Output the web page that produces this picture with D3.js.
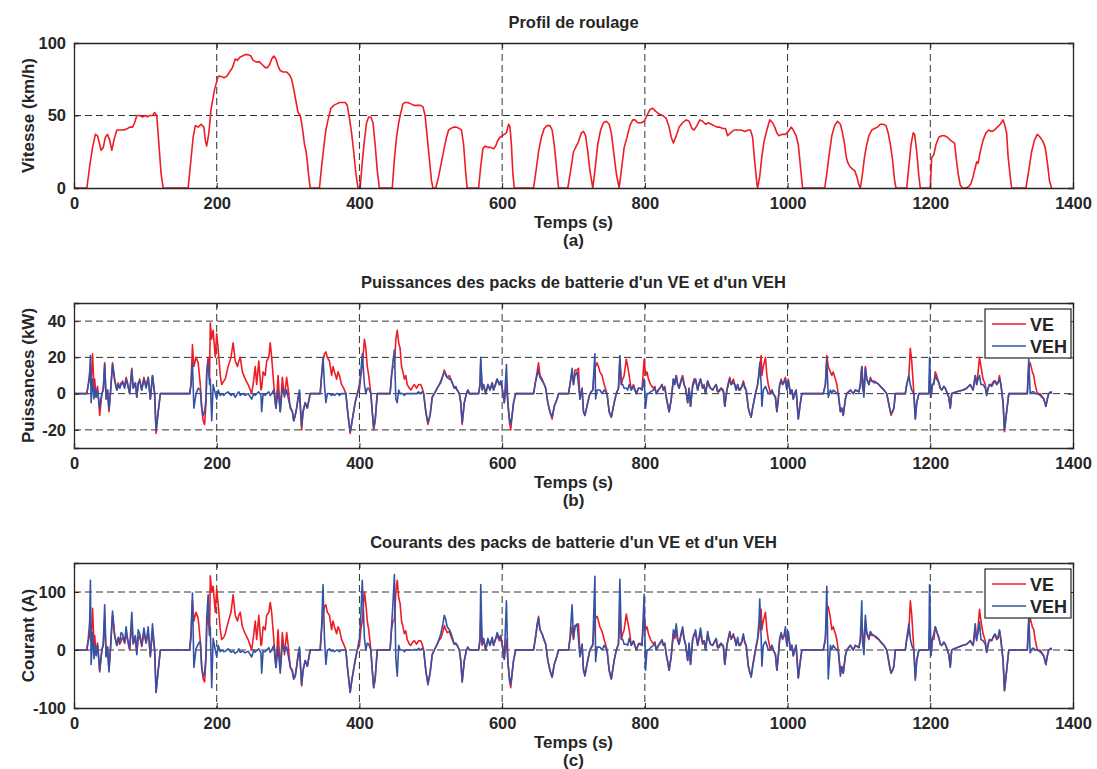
<!DOCTYPE html>
<html><head><meta charset="utf-8">
<script src="https://cdn.jsdelivr.net/npm/d3@7"></script>
<style>
body{margin:0;background:#fff}
text{font-family:"Liberation Sans",Arial,Helvetica,sans-serif;font-weight:bold;fill:#262626}
</style></head>
<body><svg id="chart" width="1097" height="769"></svg>
<script>
// ---- Data ----
const xTicks = [0,200,400,600,800,1000,1200,1400];
const seriesNames = ["VE","VEH"];

// Speed profile [time s, km/h]
const speedProfile = [[0,0],[18,0],[22,15],[26,28],[30,37],[33,36],[36,30],[38,26],[41,28],[44,35],[47,37],[50,33],[53,26],[56,33],[60,40],[65,40],[70,40],[75,41],[78,42],[82,42],[85,45],[88,50],[92,50],[96,49],[100,50],[103,49],[106,50],[110,50],[113,52],[116,50],[119,30],[122,10],[125,0],[160,0],[163,15],[167,35],[170,43],[174,42],[178,44],[182,42],[184,33],[186,29],[189,38],[192,54],[197,68],[202,77],[206,77],[210,76],[214,77],[218,80],[222,83],[226,89],[229,88],[232,90],[236,91],[240,92],[244,92],[248,91],[251,88],[255,87],[260,87],[264,85],[268,83],[271,83],[274,85],[277,89],[280,91],[283,89],[286,84],[289,81],[293,80],[298,80],[302,78],[305,75],[308,68],[311,60],[314,52],[317,50],[319,45],[321,38],[323,30],[325,26],[327,18],[329,8],[331,0],[344,0],[347,15],[350,28],[353,40],[356,47],[360,55],[364,57],[368,58],[372,59],[376,59],[380,59],[383,57],[386,48],[389,38],[392,25],[395,10],[398,0],[401,0],[404,18],[407,33],[410,45],[413,49],[416,49],[419,45],[422,30],[425,12],[428,0],[446,0],[449,20],[452,35],[455,45],[458,52],[461,58],[464,59],[468,59],[472,58],[476,57],[482,57],[486,57],[489,56],[492,50],[495,35],[498,20],[501,5],[503,0],[507,0],[511,8],[515,18],[519,28],[522,35],[525,40],[528,41],[532,42],[536,42],[540,41],[543,40],[546,30],[549,10],[551,0],[567,0],[570,15],[573,27],[576,29],[580,28],[584,28],[588,27],[591,29],[594,33],[597,35],[600,36],[603,37],[606,38],[609,44],[611,42],[613,30],[615,10],[617,0],[644,0],[647,10],[651,25],[655,35],[659,41],[663,43],[667,43],[670,40],[673,30],[676,15],[679,0],[692,0],[696,12],[700,25],[703,28],[707,32],[711,38],[714,39],[717,36],[720,25],[723,12],[727,0],[730,12],[734,30],[738,40],[742,45],[746,46],[750,44],[753,38],[757,22],[760,10],[764,0],[767,12],[771,28],[775,35],[779,43],[783,47],[786,47],[790,45],[795,45],[799,46],[803,50],[807,54],[811,55],[815,53],[820,51],[825,50],[830,48],[834,42],[837,35],[840,31],[844,36],[848,42],[853,45],[858,47],[862,46],[866,41],[869,40],[873,43],[877,47],[881,46],[885,44],[889,45],[893,44],[897,43],[901,42],[905,42],[909,41],[913,41],[916,36],[920,38],[925,40],[930,40],[935,40],[940,39],[945,40],[948,40],[951,35],[954,18],[957,3],[958,0],[961,8],[964,22],[967,32],[971,40],[975,47],[979,45],[982,42],[985,38],[988,36],[992,37],[997,37],[1001,39],[1005,42],[1008,40],[1012,36],[1015,30],[1018,15],[1021,0],[1052,0],[1055,10],[1058,22],[1062,36],[1066,43],[1070,46],[1074,44],[1077,38],[1080,30],[1082,22],[1084,18],[1087,15],[1091,13],[1094,12],[1097,8],[1100,2],[1102,0],[1105,10],[1108,22],[1111,30],[1114,36],[1118,40],[1122,41],[1126,42],[1130,44],[1134,44],[1138,43],[1141,38],[1144,30],[1147,20],[1150,5],[1152,0],[1167,0],[1170,15],[1173,30],[1176,38],[1178,37],[1181,25],[1184,8],[1186,0],[1200,0],[1202,21],[1205,23],[1208,30],[1212,35],[1216,36],[1220,36],[1224,35],[1228,33],[1231,32],[1234,31],[1236,22],[1239,10],[1242,2],[1245,0],[1250,0],[1254,1],[1257,3],[1260,8],[1263,14],[1265,18],[1267,17],[1270,25],[1274,33],[1278,38],[1282,40],[1286,39],[1290,40],[1294,42],[1298,44],[1302,47],[1304,44],[1307,38],[1309,22],[1312,8],[1314,0],[1334,0],[1338,12],[1342,25],[1346,33],[1350,37],[1354,35],[1358,32],[1361,28],[1364,18],[1367,5],[1370,0]];

// Battery signals, shared time base (s)
const tSig = [
0,18,20,22,23,24,26,28,29,31, 33,36,39,41,43,45,47,49,51,54, 57,60,62,64,66,68,71,73,75,78, 81,83,86,88,90,92,95,98,101,104,
107,110,113,115,118,121,162,164,166,168, 171,174,177,179,181,183,185,186,188,190, 191,193,195,198,200,202,205,207,210,212, 216,220,223,226,229,231,233,236,240,244,
249,252,254,256,259,262,263,265,268,270, 273,275,277,280,283,286,289,292,295,298, 300,303,306,308,310,312,314,316,319,321, 324,327,331,345,347,349,351,353,355,358,
361,363,365,368,370,372,375,378,381,383, 385,387,389,391,394,397,400,402,404,407, 409,411,413,416,418,420,422,425,443,445, 447,449,451,453,455,457,459,461,463,465,
467,470,472,475,477,480,483,486,488,490, 493,496,499,502,505,509,512,514,517,519, 521,523,526,528,531,533,535,537,540,542, 544,547,550,552,554,567,569,570,572,574,
577,580,583,586,588,591,593,596,598,600, 603,606,608,610,612,614,616,619,644,647, 649,651,653,656,658,661,664,667,670,673, 677,679,693,695,698,700,702,705,707,709,
712,714,716,720,723,727,730,731,733,735, 737,740,743,747,750,753,757,760,763,765, 767,769,771,774,776,778,781,784,788,791, 793,796,799,801,803,805,808,812,814,816,
819,821,824,826,828,830,832,834,837,840, 842,844,846,848,851,853,855,857,860,862, 864,867,869,871,874,876,878,881,883,885, 888,890,892,895,898,900,902,904,907,910,
912,915,917,919,921,924,926,928,930,932, 934,936,938,940,942,945,947,949,951,955, 958,960,961,963,964,966,969,971,973,976, 978,980,983,985,987,989,991,993,995,997,
999,1001,1004,1006,1008,1010,1012,1015,1018,1020, 1050,1053,1055,1057,1060,1062,1064,1067,1069,1071, 1074,1076,1078,1081,1083,1088,1092,1095,1100,1102, 1104,1105,1107,1109,1111,1114,1116,1118,1121,1125,
1128,1130,1135,1139,1141,1143,1145,1147,1149,1151, 1165,1167,1170,1172,1174,1177,1179,1181,1184,1198, 1199,1201,1203,1205,1207,1209,1212,1214,1216,1219, 1221,1224,1226,1228,1230,1237,1246,1251,1256,1260,
1263,1265,1267,1269,1271,1274,1277,1279,1281,1283, 1286,1289,1291,1293,1295,1297,1299,1302,1304,1307, 1310,1336,1338,1340,1343,1345,1347,1350,1354,1359, 1362,1364,1366,1369,1370];

// Power (kW)
const powerVE = [
0,0,5,8,12,5,22,3,8,-2, 4,-12,0,2,17,-3,2,-10,0,17, 8,2,6,3,5,7,4,9,6,0, 14,3,6,-2,5,8,2,9,4,9,
-3,10,0,-22,-10,0,0,5,27,15, 20,17,5,-8,-15,-17,-5,12,20,8, 39,30,35,20,33,25,10,5,7,8, 15,20,28,18,15,18,20,12,8,5,
0,8,15,5,18,2,3,12,10,18, 20,28,20,5,-8,10,-10,9,-2,9, 3,-8,-10,-15,-12,-8,-3,0,-20,-10, -5,-8,0,0,10,18,22,23,20,18,
10,15,12,8,12,10,5,3,0,-8, -15,-22,-17,-12,-5,0,2,10,15,30, 25,15,10,0,-10,-20,-15,0,0,10, 15,15,30,35,28,25,15,12,8,10,
5,3,2,4,5,3,5,5,3,0, -10,-17,-12,-2,0,3,5,6,10,13, 10,9,10,8,5,3,3,2,0,-5, -17,-5,0,2,0,0,5,18,2,5,
0,5,2,6,2,6,8,5,6,3, -5,5,-5,-15,-20,-12,-5,0,0,7, 12,17,10,8,6,3,-5,-10,-14,-7, -3,0,0,5,12,5,13,13,14,-3,
3,-10,-12,-5,0,2,15,15,17,15, 12,10,5,0,-10,-13,-5,0,3,18, 5,8,10,19,15,10,2,5,0,3, 3,2,19,10,12,8,5,3,4,0,
2,3,5,2,4,-2,-6,-10,-3,8, 6,10,5,3,8,10,5,3,-5,3, -7,5,8,8,2,6,8,3,5,0, 7,5,3,2,4,5,1,1,3,2,
-7,2,6,9,5,8,5,2,5,2, 2,4,7,4,2,-8,-11,-13,-8,0, 5,10,15,21,10,15,20,10,5,0, 2,0,-2,-10,-3,5,8,5,7,9,
2,8,0,2,-3,0,2,-14,-5,0, 0,5,21,15,12,10,12,8,5,0, -10,-8,-12,-3,0,2,0,2,1,5, 15,10,0,15,8,5,9,7,7,6,
5,4,2,0,-4,-8,-12,-10,-8,0, 0,5,10,25,18,0,-14,-5,0,0, 10,-2,5,5,12,10,6,3,2,4, 3,0,-2,-8,0,1,2,3,5,2,
10,5,12,20,15,8,5,-1,3,5, 5,7,7,5,6,10,5,-5,-21,-10, 0,0,15,17,12,10,5,0,0,-3, -7,-3,0,1,0];

const powerVEH = [
0,0,5,12,21,-5,8,-3,3,-2, 2,-8,0,2,16,-3,2,-9,0,16, 7,2,5,3,6,6,3,8,5,0, 13,3,6,-2,6,7,2,8,3,9,
-3,10,0,-20,-10,0,0,5,17,-8, 0,3,2,-8,-12,-10,-3,10,18,5, 8,-15,5,0,-3,2,-1,0,-1,0, 1,-1,0,-2,0,1,-1,0,-1,0,
-3,0,-1,0,1,-1,-10,0,-1,0, 1,-1,0,2,-8,2,-10,3,-1,2, -2,-7,-10,-15,-12,-8,-2,2,-18,-10, -5,-8,0,0,10,20,5,-5,0,0,
-1,0,-1,0,0,-1,0,0,0,-8, -15,-21,-17,-12,-5,0,5,12,22,5, 0,3,3,0,-10,-19,-15,0,0,10, 18,24,-3,-5,2,0,0,0,-1,0,
0,0,0,0,0,0,1,0,1,0, -10,-16,-12,-2,0,3,5,7,10,12, 11,9,8,8,5,3,4,2,0,-5, -16,-5,0,2,0,0,5,20,2,5,
0,5,2,6,2,5,8,5,7,3, -5,16,-5,-13,-17,-12,-5,0,0,7, 10,13,9,7,6,3,-5,-10,-13,-7, -3,0,0,5,14,5,10,12,5,-3,
3,-10,-12,-5,0,2,22,-3,2,2, 2,0,2,0,-10,-13,-5,0,3,21, 5,5,3,3,2,5,2,4,0,3, 3,2,8,-8,0,0,1,2,3,0,
2,3,5,2,3,-2,-6,-10,-3,8, 5,10,5,3,7,9,5,3,-5,3, -7,4,6,8,2,5,8,3,4,0, 7,4,3,2,4,5,1,2,3,1,
-7,2,5,8,5,6,5,2,5,2, 3,4,6,3,2,-8,-11,-13,-8,0, 5,12,17,5,-7,2,4,2,0,0, 2,0,-2,-10,-3,5,7,5,6,8,
2,7,0,2,-3,0,2,-14,-5,0, 0,5,19,-2,2,0,2,1,0,0, -10,-8,-12,-3,0,2,0,2,1,5, 15,4,-2,14,8,5,8,7,6,6,
5,4,2,0,-4,-8,-11,-10,-8,0, 0,5,10,5,2,0,-14,-5,0,0, 20,-2,5,6,10,8,6,3,2,4, 3,0,-2,-8,0,1,2,3,5,2,
10,5,8,10,5,5,3,-1,3,5, 4,6,7,5,6,8,5,-5,-20,-10, 0,0,19,0,1,1,0,0,-1,-3, -7,-3,0,1,0];

// Current (A)
const currentVE = [
0,0,15,25,40,15,72,10,25,-8, 12,-38,0,8,55,-10,5,-35,0,60, 25,8,20,10,15,22,12,28,18,0, 45,10,20,-5,18,25,6,30,12,30,
-10,32,0,-73,-35,0,0,20,85,50, 65,55,15,-30,-50,-55,-15,40,65,25, 128,100,110,65,105,80,35,18,22,28, 48,65,95,60,50,60,65,40,28,18,
0,28,50,18,60,8,10,40,35,60, 65,82,65,18,-30,35,-35,30,-8,30, 10,-30,-35,-50,-45,-30,-10,0,-62,-35, -18,-28,0,0,35,60,75,78,65,60,
35,50,40,28,40,35,18,10,0,-28, -50,-73,-55,-40,-18,0,8,35,50,100, 80,50,35,0,-35,-65,-50,0,0,35, 50,52,100,120,90,80,50,40,28,33,
18,10,8,14,16,10,16,16,10,0, -35,-58,-40,-8,0,10,18,20,32,42, 35,30,32,25,15,10,10,8,0,-18, -55,-18,0,5,0,0,15,60,8,18,
0,18,8,20,8,20,25,16,20,10, -16,18,-18,-50,-65,-40,-18,0,0,22, 40,58,35,28,20,10,-18,-35,-47,-25, -10,0,0,18,40,18,42,42,45,-10,
10,-35,-42,-18,0,8,50,55,58,50, 40,32,18,0,-35,-50,-18,0,10,60, 18,28,35,62,48,35,8,16,0,10, 10,8,62,35,40,28,18,10,14,0,
8,10,16,8,12,-8,-20,-35,-10,28, 20,32,16,10,28,32,18,10,-18,10, -25,18,28,28,8,20,28,10,16,0, 25,18,10,8,14,18,4,4,10,8,
-25,8,20,30,18,28,18,8,18,8, 8,14,25,14,8,-28,-38,-45,-28,0, 18,35,50,70,35,50,65,35,18,0, 8,0,-8,-35,-10,18,28,18,24,30,
8,28,0,8,-10,0,8,-48,-18,0, 0,18,70,75,55,35,40,28,18,0, -35,-28,-40,-10,0,8,0,8,4,18, 45,35,0,50,28,18,30,25,25,20,
18,14,8,0,-14,-28,-40,-35,-28,0, 0,18,32,85,60,0,-48,-18,0,0, 35,-8,18,18,40,32,20,10,8,12, 10,0,-8,-28,0,4,8,10,16,8,
32,16,40,70,50,28,16,-4,10,18, 16,24,25,18,20,32,16,-18,-70,-35, 0,0,45,55,40,35,18,0,0,-10, -25,-10,0,3,0];

const currentVEH = [
0,0,20,50,120,-25,30,-15,10,-10, 8,-35,0,10,78,-12,5,-38,0,67, 25,8,22,12,30,28,12,40,20,2, 65,12,25,-8,35,28,8,38,12,40,
-12,45,0,-73,-35,0,0,30,98,-30, 2,10,15,-30,-45,-40,-10,55,95,25, 40,-65,20,0,-12,8,-3,0,-3,-2, 2,-4,-2,-6,-3,2,-4,-2,-5,-2,
-12,0,-4,-1,2,-5,-40,-2,-3,0, 4,-4,0,8,-30,5,-40,10,-3,5, -8,-28,-38,-50,-45,-28,-8,5,-60,-35, -18,-28,0,0,40,113,20,-25,0,2,
-2,0,-3,0,-1,-3,0,0,0,-28, -50,-73,-55,-40,-18,0,20,60,120,20, 0,12,10,0,-35,-65,-50,0,0,40, 80,130,-15,-45,8,0,0,0,-3,0,
0,0,0,0,1,0,3,0,3,0, -35,-60,-40,-8,0,10,20,28,45,60, 52,40,35,30,18,10,12,8,0,-18, -55,-18,0,5,0,0,20,113,10,20,
0,20,8,22,8,20,30,20,25,12, -16,85,-20,-45,-60,-40,-18,0,0,25, 45,55,35,28,20,10,-18,-35,-47,-25, -10,0,0,20,78,20,40,45,20,-12,
10,-35,-45,-18,0,10,127,-20,5,5, 5,0,8,0,-35,-50,-18,0,10,122, 20,18,10,10,8,20,8,15,0,10, 12,8,96,-35,0,0,4,8,12,0,
8,12,18,8,10,-8,-20,-35,-10,35, 25,45,20,10,30,40,20,10,-18,12, -25,18,25,35,8,22,38,12,16,0, 32,18,10,8,16,20,4,8,12,5,
-25,8,20,32,20,25,20,8,22,8, 10,16,28,12,8,-28,-38,-47,-30,0, 20,50,88,20,-28,8,15,8,0,0, 8,0,-8,-35,-10,20,30,20,25,40,
8,32,0,8,-10,0,8,-48,-18,0, 0,20,110,-50,8,0,8,3,0,0, -45,-30,-40,-10,0,8,0,8,4,20, 85,15,-8,60,30,20,32,28,25,22,
18,15,8,0,-14,-28,-40,-35,-28,0, 0,20,45,20,8,0,-52,-18,0,0, 113,-10,20,28,40,32,22,10,8,14, 10,0,-8,-30,0,4,8,10,16,8,
45,18,30,48,18,16,10,-4,10,18, 16,25,28,20,22,35,18,-18,-70,-35, 0,0,58,-5,3,3,0,0,-3,-10, -25,-10,0,3,0];

// ---- Drawing ----
const svg = d3.select("#chart");
const left = 74, right = 1073;
const RED = "#ee1d25", BLUE = "#3553a6";
const FONT = "Liberation Sans, Arial, sans-serif";
const x = d3.scaleLinear().domain([0,1400]).range([left,right]);
const plainFmt = d => String(d);

function zip(t, v){ const n=Math.min(t.length,v.length); const out=[]; for(let i=0;i<n;i++) out.push([t[i],v[i]]); return out; }

const panels = [
  {top:43, bottom:188, dom:[0,100], ticks:[0,50,100], ylab:"Vitesse (km/h)", title:"Profil de roulage", sub:"(a)",
   series:[{d:speedProfile, c:RED}], legend:false},
  {top:303, bottom:448, dom:[-30,50], ticks:[-20,0,20,40], ylab:"Puissances (kW)", title:"Puissances des packs de batterie d'un VE et d'un VEH", sub:"(b)",
   series:[{d:zip(tSig,powerVE), c:RED},{d:zip(tSig,powerVEH), c:BLUE}], legend:true},
  {top:563, bottom:708, dom:[-100,150], ticks:[-100,0,100], ylab:"Courant (A)", title:"Courants des packs de batterie d'un VE et d'un VEH", sub:"(c)",
   series:[{d:zip(tSig,currentVE), c:RED},{d:zip(tSig,currentVEH), c:BLUE}], legend:true}
];

panels.forEach(p => {
  const y = d3.scaleLinear().domain(p.dom).range([p.bottom,p.top]);
  const g = svg.append("g");
  // grid
  xTicks.forEach(t => { if (t>0 && t<1400) g.append("line").attr("x1",x(t)).attr("x2",x(t)).attr("y1",p.top).attr("y2",p.bottom)
      .attr("stroke","#333").attr("stroke-width",1).attr("stroke-dasharray","7,4"); });
  p.ticks.forEach(t => { if (y(t)>p.top+1 && y(t)<p.bottom-1) g.append("line").attr("x1",left).attr("x2",right).attr("y1",y(t)).attr("y2",y(t))
      .attr("stroke","#333").attr("stroke-width",1).attr("stroke-dasharray","7,4"); });
  // series
  const line = d3.line().x(d=>x(d[0])).y(d=>y(d[1]));
  p.series.forEach(s => g.append("path").datum(s.d).attr("d",line).attr("fill","none")
      .attr("stroke",s.c).attr("stroke-width",1.6).attr("stroke-linejoin","round"));
  // axes (inward ticks, mirrored)
  const ax = g.append("g").attr("transform",`translate(0,${p.bottom})`).call(d3.axisBottom(x).tickValues(xTicks).tickSize(-5).tickPadding(9).tickFormat(plainFmt));
  const axTop = g.append("g").attr("transform",`translate(0,${p.top})`).call(d3.axisTop(x).tickValues(xTicks).tickSize(-5).tickFormat(""));
  const ay = g.append("g").attr("transform",`translate(${left},0)`).call(d3.axisLeft(y).tickValues(p.ticks).tickSize(-5).tickPadding(8).tickFormat(plainFmt));
  const ayR = g.append("g").attr("transform",`translate(${right},0)`).call(d3.axisRight(y).tickValues(p.ticks).tickSize(-5).tickFormat(""));
  [ax,axTop,ay,ayR].forEach(a => { a.select(".domain").attr("stroke","#262626").attr("stroke-width",1.3);
     a.selectAll(".tick line").attr("stroke","#262626");
     a.selectAll("text").attr("font-size",16.5).attr("font-family",FONT).attr("font-weight","bold").attr("fill","#262626"); });
  // labels
  g.append("text").attr("x",(left+right)/2).attr("y",p.top-15).attr("text-anchor","middle").attr("font-size",16.5).text(p.title);
  g.append("text").attr("x",(left+right)/2).attr("y",p.bottom+40).attr("text-anchor","middle").attr("font-size",17).text("Temps (s)");
  g.append("text").attr("x",(left+right)/2).attr("y",p.bottom+58).attr("text-anchor","middle").attr("font-size",17).text(p.sub);
  g.append("text").attr("transform",`translate(34,${(p.top+p.bottom)/2}) rotate(-90)`).attr("text-anchor","middle").attr("font-size",17).text(p.ylab);
  // legend
  if (p.legend) {
    const lx = 985, ly = p.top+6, lw = 86, lh = 49;
    const lg = g.append("g");
    lg.append("rect").attr("x",lx).attr("y",ly).attr("width",lw).attr("height",lh).attr("fill","#fff").attr("stroke","#262626").attr("stroke-width",1.2);
    seriesNames.forEach((n,i) => {
      const yy = ly + 15 + i*22;
      lg.append("line").attr("x1",lx+7).attr("x2",lx+41).attr("y1",yy).attr("y2",yy).attr("stroke",p.series[i].c).attr("stroke-width",1.6);
      lg.append("text").attr("x",lx+45).attr("y",yy+6.5).attr("font-size",18).text(n);
    });
  }
});
</script></body></html>
